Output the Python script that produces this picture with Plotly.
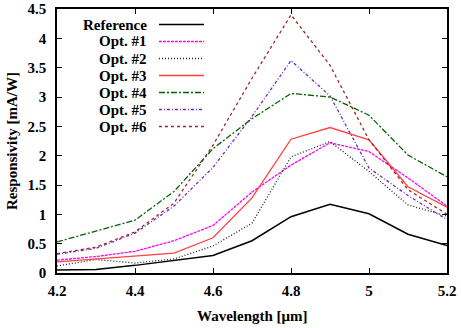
import plotly.graph_objects as go

wavelength = [4.2, 4.3, 4.4, 4.5, 4.6, 4.7, 4.8, 4.9, 5.0, 5.1, 5.2]
reference = [0.05, 0.06, 0.13, 0.21, 0.30, 0.55, 0.96, 1.17, 1.01, 0.66, 0.47]
opt1 = [0.22, 0.28, 0.37, 0.55, 0.81, 1.38, 1.84, 2.22, 2.07, 1.62, 1.14]
opt2 = [0.12, 0.23, 0.17, 0.24, 0.46, 0.85, 1.98, 2.24, 1.73, 1.16, 0.97]
opt3 = [0.19, 0.24, 0.29, 0.34, 0.60, 1.28, 2.28, 2.48, 2.27, 1.47, 1.12]
opt4 = [0.53, 0.72, 0.90, 1.39, 2.12, 2.63, 3.06, 3.00, 2.69, 2.01, 1.64]
opt5 = [0.32, 0.42, 0.68, 1.14, 1.80, 2.67, 3.62, 3.02, 1.79, 1.32, 0.91]
opt6 = [0.33, 0.44, 0.70, 1.19, 2.18, 3.32, 4.40, 3.54, 2.27, 1.42, 1.00]

names = ["Reference", "Opt. #1", "Opt. #2", "Opt. #3", "Opt. #4", "Opt. #5", "Opt. #6"]
series = [reference, opt1, opt2, opt3, opt4, opt5, opt6]
colors = ["#000000", "#ff00ff", "#202020", "#ff4040", "#006400", "#6a2cc0", "#a02828"]
dashes = ["solid", "3px,1px", "1px,2px", "solid", "6px,2px,2px,2px", "3px,2px,1px,2px", "3px,3px"]
widths = [1.5, 1.3, 1.3, 1.3, 1.3, 1.3, 1.3]

x_ticks = [4.2, 4.4, 4.6, 4.8, 5.0, 5.2]
x_ticklabels = ["4.2", "4.4", "4.6", "4.8", "5", "5.2"]
y_ticks = [0, 0.5, 1, 1.5, 2, 2.5, 3, 3.5, 4, 4.5]
y_ticklabels = ["0", "0.5", "1", "1.5", "2", "2.5", "3", "3.5", "4", "4.5"]
x_title = "Wavelength [μm]"
y_title = "Responsivity [mA/W]"

FONT = "Liberation Serif"

fig = go.Figure()
for name, ys, c, d, w in zip(names, series, colors, dashes, widths):
    fig.add_trace(go.Scatter(x=wavelength, y=ys, mode="lines", name=name,
                             line=dict(color=c, dash=d, width=w), showlegend=False))

L, R, T, B = 57, 14, 9, 55
W, H = 461, 328
pw, ph = W - L - R, H - T - B

# Manual legend (text right-aligned, sample line to the right)
for i, (name, c, d, w) in enumerate(zip(names, colors, dashes, widths)):
    ypix = 24.5 + 17 * i
    yp = (H - B - ypix) / ph
    fig.add_annotation(x=(149 - L) / pw, y=yp, xref="paper", yref="paper",
                       text="<b>%s</b>" % name, showarrow=False, xanchor="right",
                       yanchor="middle", font=dict(family=FONT, size=15, color="black"))
    fig.add_shape(type="line", xref="paper", yref="paper",
                  x0=(159 - L) / pw, x1=(204 - L) / pw, y0=yp, y1=yp,
                  line=dict(color=c, dash=d, width=w))

# Axis titles
fig.add_annotation(x=0.5, y=(H - B - 316) / ph, xref="paper", yref="paper",
                   text="<b>%s</b>" % x_title, showarrow=False, xanchor="center", yanchor="middle",
                   font=dict(family=FONT, size=15, color="black"))
fig.add_annotation(x=(12 - L) / pw, y=0.5, xref="paper", yref="paper", textangle=-90,
                   text="<b>%s</b>" % y_title, showarrow=False, xanchor="center", yanchor="middle",
                   font=dict(family=FONT, size=15, color="black"))

axis_common = dict(showline=True, linecolor="black", linewidth=1.6, mirror="ticks",
                   ticks="inside", ticklen=5, tickwidth=1, tickcolor="black",
                   showgrid=False, zeroline=False, automargin=False,
                   tickfont=dict(family=FONT, size=15, color="black"))

fig.update_xaxes(range=[4.2, 5.2], tickvals=x_ticks, ticktext=["<b>%s</b>" % t for t in x_ticklabels],
                 ticklabelstandoff=3, **axis_common)
fig.update_yaxes(range=[0, 4.5], tickvals=y_ticks, ticktext=["<b>%s</b>" % t for t in y_ticklabels],
                 ticklabelstandoff=6, **axis_common)

fig.update_layout(width=W, height=H, margin=dict(l=L, r=R, t=T, b=B),
                  plot_bgcolor="white", paper_bgcolor="white", showlegend=False)

fig.write_html("out.html")
